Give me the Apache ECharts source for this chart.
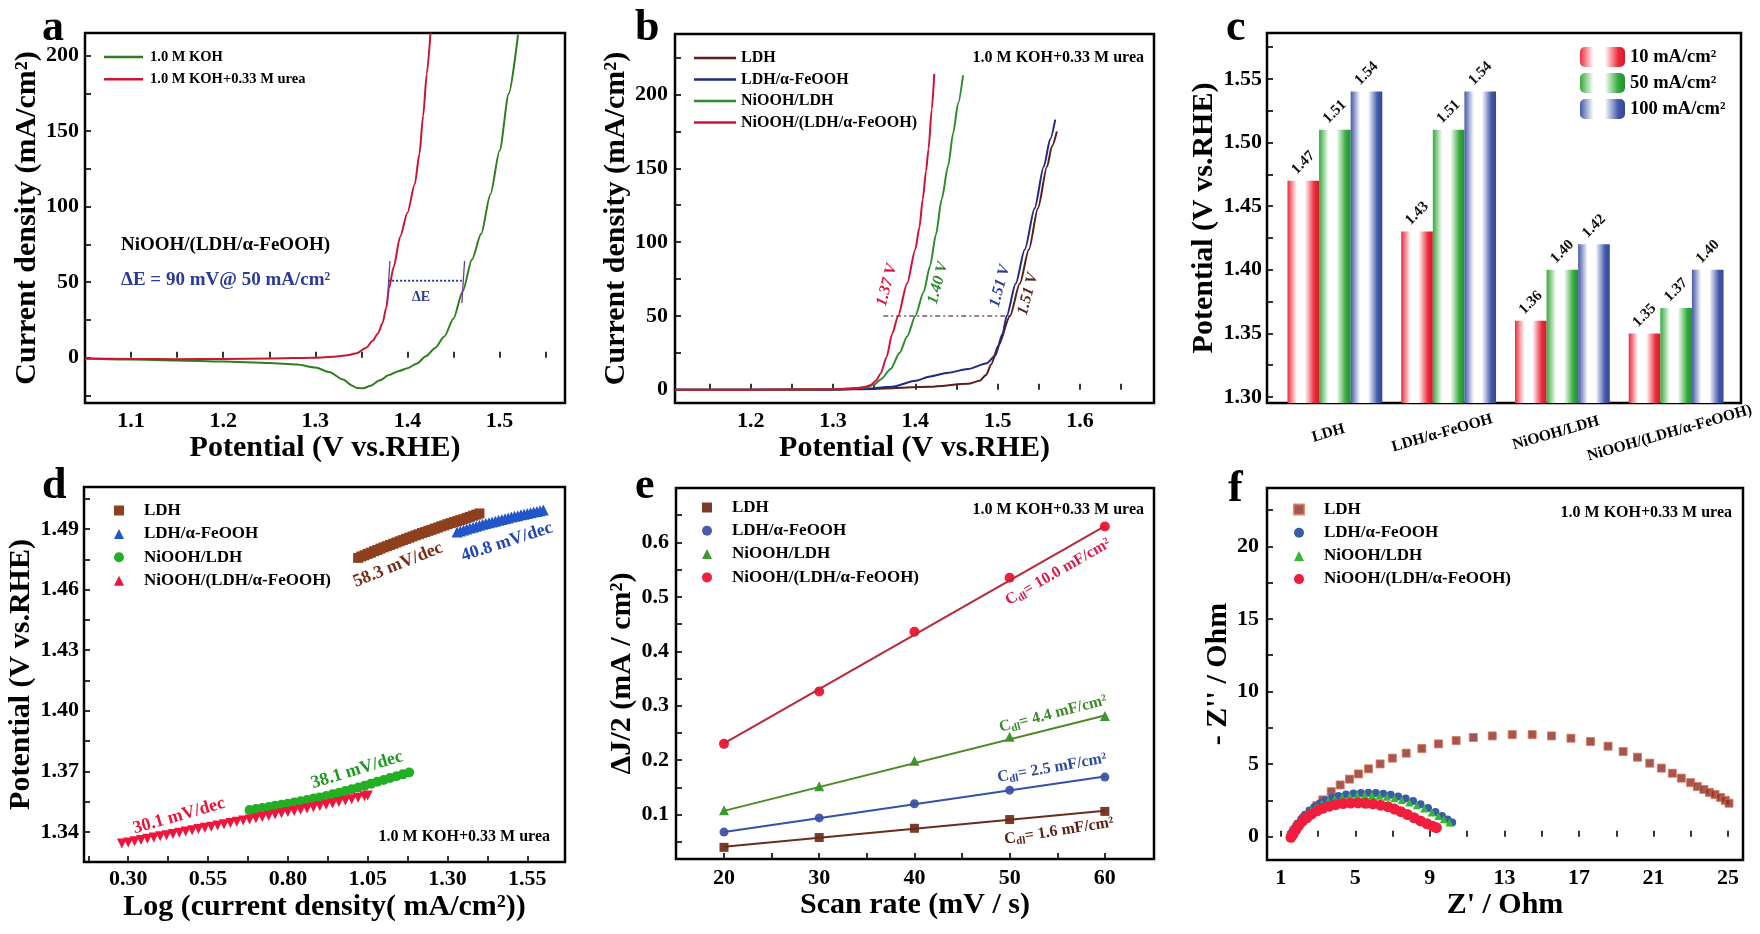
<!DOCTYPE html>
<html><head><meta charset="utf-8">
<script src="https://cdn.jsdelivr.net/npm/echarts@6/dist/echarts.min.js"></script>
<style>html,body{margin:0;padding:0;background:#fff}#c{width:1760px;height:934px}</style>
</head><body><div id="c"></div>
<script>
const FONT = "'Liberation Serif','Times New Roman',serif";

// ---------- Panel a ----------
const aKOH = [[1.05,-0.5],[1.10,-1.2],[1.15,-1.8],[1.20,-2.6],[1.25,-3.5],[1.28,-4.5],[1.30,-6.5],[1.315,-9.5],[1.33,-14.5],[1.34,-18.5],[1.345,-20.0],[1.352,-20.3],[1.36,-18.5],[1.37,-15.0],[1.38,-11.5],[1.39,-9.0],[1.40,-7.0],[1.41,-4.0],[1.42,1.0],[1.43,6.5],[1.44,14.0],[1.45,26.0],[1.46,44.0],[1.47,65.0],[1.48,82.0],[1.49,108.0],[1.50,137.0],[1.51,175.0],[1.52,214.0]];
const aUrea = [[1.05,-0.5],[1.10,-0.8],[1.15,-1.0],[1.20,-0.8],[1.25,-0.5],[1.30,0.0],[1.32,0.6],[1.335,1.6],[1.345,3.0],[1.355,6.5],[1.362,11.0],[1.368,16.0],[1.373,23.0],[1.377,33.0],[1.38,46.0],[1.385,60.0],[1.392,80.0],[1.40,96.0],[1.408,115.0],[1.413,135.0],[1.417,160.0],[1.421,188.0],[1.425,215.0]];
const aDeltaE = [[1.379,51],[1.459,51]];
const aMarkL = [[1.378,36],[1.381,64]];
const aMarkR = [[1.459,36],[1.462,64]];
const aXLabels = [1.1,1.2,1.3,1.4,1.5];
const aXTicks = [1.1,1.15,1.2,1.25,1.3,1.35,1.4,1.45,1.5,1.55];
const aYLabels = [0,50,100,150,200];
const aYTicks = [-25,0,25,50,75,100,125,150,175,200];

// ---------- Panel b ----------
const bLDH = [[1.108,0.0],[1.2,0.0],[1.3,0.0],[1.35,0.5],[1.418,2.0],[1.464,4.0],[1.478,6.0],[1.486,10.0],[1.492,17.0],[1.501,30.0],[1.515,50.0],[1.527,72.0],[1.538,95.0],[1.549,123.0],[1.56,151.0],[1.566,165.0],[1.572,175.0]];
const bLDHFe = [[1.108,0.0],[1.2,0.0],[1.3,0.2],[1.34,0.8],[1.372,2.0],[1.40,6.0],[1.418,9.0],[1.44,11.5],[1.464,14.0],[1.487,18.0],[1.497,23.0],[1.506,38.0],[1.511,50.0],[1.522,72.0],[1.533,95.0],[1.545,123.0],[1.556,151.0],[1.564,170.0],[1.570,183.0]];
const bNiLDH = [[1.108,0.0],[1.2,0.0],[1.3,0.3],[1.34,1.5],[1.35,3.5],[1.358,7.0],[1.37,14.0],[1.381,25.0],[1.39,36.0],[1.40,50.0],[1.41,66.0],[1.418,84.0],[1.425,105.0],[1.432,129.0],[1.44,152.0],[1.446,174.0],[1.452,194.0],[1.458,213.0]];
const bNiLDHFe = [[1.108,0.0],[1.2,0.0],[1.3,0.3],[1.33,1.0],[1.34,2.0],[1.345,3.0],[1.352,6.0],[1.358,11.0],[1.365,22.0],[1.372,38.0],[1.379,50.0],[1.39,72.0],[1.40,95.0],[1.405,110.0],[1.409,129.0],[1.413,148.0],[1.416,163.0],[1.42,190.0],[1.423,214.0]];
const bRef50 = [[1.361,50],[1.519,50]];
const bXLabels = [1.2,1.3,1.4,1.5,1.6];
const bXTicks = [1.15,1.2,1.25,1.3,1.35,1.4,1.45,1.5,1.55,1.6,1.65];
const bYLabels = [0,50,100,150,200];
const bYTicks = [0,25,50,75,100,125,150,175,200,225];

// ---------- Panel c ----------
const cCats = ['LDH','LDH/α-FeOOH','NiOOH/LDH','NiOOH/(LDH/α-FeOOH)'];
const c10 = [1.47,1.43,1.36,1.35];
const c50 = [1.51,1.51,1.40,1.37];
const c100 = [1.54,1.54,1.42,1.40];
const cYLabels = [1.30,1.35,1.40,1.45,1.50,1.55];
const cYTicks = [1.30,1.325,1.35,1.375,1.40,1.425,1.45,1.475,1.50,1.525,1.55,1.575];

// ---------- Panel d ----------
const dLDH = [[1.02,1.4757],[1.03,1.4764],[1.04,1.4770],[1.05,1.4777],[1.06,1.4783],[1.07,1.4790],[1.08,1.4796],[1.09,1.4803],[1.10,1.4809],[1.11,1.4815],[1.12,1.4821],[1.13,1.4827],[1.14,1.4833],[1.15,1.4839],[1.16,1.4845],[1.17,1.4851],[1.18,1.4857],[1.19,1.4863],[1.20,1.4869],[1.21,1.4874],[1.22,1.4880],[1.23,1.4885],[1.24,1.4891],[1.25,1.4896],[1.26,1.4902],[1.27,1.4907],[1.28,1.4913],[1.29,1.4918],[1.30,1.4924],[1.31,1.4929],[1.32,1.4934],[1.33,1.4939],[1.34,1.4944],[1.35,1.4949],[1.36,1.4955],[1.37,1.4960],[1.38,1.4966],[1.39,1.4971],[1.40,1.4977]];
const dLDHFe = [[1.33,1.4885],[1.34,1.4890],[1.35,1.4895],[1.36,1.4900],[1.37,1.4905],[1.38,1.4909],[1.39,1.4914],[1.40,1.4918],[1.41,1.4923],[1.42,1.4927],[1.43,1.4931],[1.44,1.4935],[1.45,1.4939],[1.46,1.4943],[1.47,1.4947],[1.48,1.4951],[1.49,1.4955],[1.50,1.4959],[1.51,1.4963],[1.52,1.4966],[1.53,1.4970],[1.54,1.4973],[1.55,1.4977],[1.56,1.4980],[1.57,1.4984],[1.58,1.4987],[1.59,1.4991],[1.60,1.4994]];
const dNiLDH = [[0.68,1.3508],[0.70,1.3513],[0.72,1.3518],[0.74,1.3523],[0.76,1.3529],[0.78,1.3534],[0.80,1.3540],[0.82,1.3546],[0.84,1.3552],[0.86,1.3558],[0.88,1.3565],[0.90,1.3571],[0.92,1.3578],[0.94,1.3586],[0.96,1.3594],[0.98,1.3602],[1.00,1.3611],[1.02,1.3620],[1.04,1.3629],[1.06,1.3638],[1.08,1.3648],[1.10,1.3657],[1.12,1.3667],[1.14,1.3676],[1.16,1.3685],[1.18,1.3694]];
const dNiLDHFe = [[0.28,1.3343],[0.30,1.3348],[0.32,1.3354],[0.34,1.3360],[0.36,1.3366],[0.38,1.3372],[0.40,1.3378],[0.42,1.3384],[0.44,1.3390],[0.46,1.3396],[0.48,1.3402],[0.50,1.3408],[0.52,1.3414],[0.54,1.3420],[0.56,1.3426],[0.58,1.3432],[0.60,1.3438],[0.62,1.3444],[0.64,1.3450],[0.66,1.3456],[0.68,1.3462],[0.70,1.3468],[0.72,1.3474],[0.74,1.3480],[0.76,1.3486],[0.78,1.3492],[0.80,1.3498],[0.82,1.3504],[0.84,1.3510],[0.86,1.3516],[0.88,1.3522],[0.90,1.3528],[0.92,1.3534],[0.94,1.3541],[0.96,1.3548],[0.98,1.3555],[1.00,1.3562],[1.02,1.3569],[1.04,1.3576],[1.05,1.3580]];
const dXLabels = [0.30,0.55,0.80,1.05,1.30,1.55];
const dXTicks = [0.175,0.30,0.425,0.55,0.675,0.80,0.925,1.05,1.175,1.30,1.425,1.55];
const dYLabels = [1.34,1.37,1.40,1.43,1.46,1.49];
const dYTicks = [1.34,1.355,1.37,1.385,1.40,1.415,1.43,1.445,1.46,1.475,1.49,1.505];

// ---------- Panel e ----------
const eScan = [20,30,40,50,60];
const eLDH = [0.040,0.058,0.075,0.091,0.106];
const eLDHFe = [0.068,0.094,0.120,0.145,0.169];
const eNiLDH = [0.108,0.152,0.199,0.243,0.281];
const eNiLDHFe = [0.230,0.326,0.436,0.535,0.629];
const eFitX = [20,60];
const eLDHFit = [0.041,0.107];
const eLDHFeFit = [0.068,0.170];
const eNiLDHFit = [0.107,0.282];
const eNiLDHFeFit = [0.231,0.630];
const eXLabels = [20,30,40,50,60];
const eXTicks = [20,25,30,35,40,45,50,55,60];
const eYLabels = [0.1,0.2,0.3,0.4,0.5,0.6];
const eYTicks = [0.05,0.1,0.15,0.2,0.25,0.3,0.35,0.4,0.45,0.5,0.55,0.6,0.65];

// ---------- Panel f ----------
const fLDH = [[1.55,0.1],[1.7,0.4],[1.87,0.69],[2.23,1.27],[2.59,1.72],[2.94,2.14],[3.26,2.53],[3.71,3.10],[4.19,3.56],[4.69,3.96],[5.17,4.32],[5.71,4.67],[6.33,5.01],[6.99,5.41],[7.73,5.75],[8.57,6.07],[9.46,6.39],[10.41,6.62],[11.33,6.83],[12.35,6.94],[13.42,7.03],[14.49,7.03],[15.53,6.94],[16.57,6.78],[17.62,6.55],[18.56,6.23],[19.37,5.86],[20.14,5.47],[20.80,5.06],[21.42,4.72],[22.01,4.37],[22.49,4.03],[22.99,3.72],[23.35,3.45],[23.7,3.25],[24.0,3.05],[24.3,2.9],[24.6,2.7],[24.85,2.5],[25.05,2.3]];
const fLDHFe = [[1.5,0.0],[1.6,0.3],[1.75,0.6],[1.9,0.9],[2.1,1.2],[2.3,1.5],[2.55,1.8],[2.8,2.05],[3.1,2.3],[3.4,2.5],[3.75,2.67],[4.1,2.8],[4.5,2.9],[4.9,2.97],[5.3,3.0],[5.7,3.02],[6.1,3.0],[6.5,2.96],[6.9,2.88],[7.3,2.77],[7.7,2.63],[8.1,2.45],[8.5,2.23],[8.9,1.98],[9.3,1.7],[9.65,1.42],[9.95,1.18],[10.2,0.98]];
const fNiLDH = [[1.5,0.0],[1.62,0.3],[1.78,0.6],[1.95,0.9],[2.15,1.2],[2.38,1.5],[2.62,1.78],[2.9,2.02],[3.2,2.25],[3.55,2.45],[3.9,2.6],[4.3,2.72],[4.7,2.8],[5.1,2.85],[5.5,2.87],[5.9,2.86],[6.3,2.82],[6.7,2.75],[7.1,2.65],[7.5,2.52],[7.9,2.36],[8.3,2.16],[8.7,1.93],[9.1,1.67],[9.45,1.42],[9.75,1.2],[10.05,0.98]];
const fNiLDHFe = [[1.55,-0.05],[1.65,0.15],[1.8,0.45],[1.95,0.75],[2.15,1.05],[2.4,1.3],[2.65,1.55],[2.95,1.78],[3.25,1.95],[3.6,2.1],[3.95,2.2],[4.35,2.28],[4.75,2.31],[5.15,2.32],[5.55,2.3],[5.95,2.25],[6.35,2.17],[6.75,2.06],[7.1,1.9],[7.45,1.72],[7.8,1.52],[8.15,1.3],[8.5,1.08],[8.85,0.88],[9.15,0.72],[9.35,0.62]];
const fXLabels = [1,5,9,13,17,21,25];
const fXTicks = [1,3,5,7,9,11,13,15,17,19,21,23,25];
const fYLabels = [0,5,10,15,20];
const fYTicks = [0,2.5,5,7.5,10,12.5,15,17.5,20,22.5];

// ---------- helpers ----------
const f0 = v => String(Math.round(v));
const f1 = v => v.toFixed(1);
const f2 = v => v.toFixed(2);
function vAxis(o) {
  return {
    type: 'value', gridIndex: o.g, min: o.min, max: o.max,
    axisLine: { show: false },
    axisTick: { show: true, inside: true, length: 6, lineStyle: { color: '#000', width: 1.6 }, customValues: o.ticks },
    axisLabel: { show: true, customValues: o.labels, formatter: o.fmt, fontFamily: FONT, fontWeight: 'bold', fontSize: 22, color: '#000', margin: o.margin },
    splitLine: { show: false },
    name: o.name, nameLocation: 'middle', nameGap: o.gap,
    nameTextStyle: { fontFamily: FONT, fontWeight: 'bold', fontSize: 30, color: '#000' }
  };
}
function hidden(g) { return { type: 'value', gridIndex: g, show: false, min: 0, max: 1 }; }
function grid(l, t, w, h, show) {
  return { left: l, top: t, width: w, height: h, show: !!show, borderColor: '#000', borderWidth: 2.5, backgroundColor: 'transparent', containLabel: false, outerBoundsMode: 'none' };
}
function lineS(name, data, color, xi, extra) {
  return Object.assign({ type: 'line', name, data, xAxisIndex: xi, yAxisIndex: xi, symbol: 'none', smooth: 0.25, smoothMonotone: 'x', lineStyle: { color, width: 2 }, itemStyle: { color }, silent: true }, extra || {});
}
function scat(name, data, color, xi, symbol, size, extra) {
  return Object.assign({ type: 'scatter', name, data, xAxisIndex: xi, yAxisIndex: xi, symbol, symbolSize: size, itemStyle: { color, opacity: 1 }, silent: true }, extra || {});
}
function barGrad(c1, c2) {
  return new echarts.graphic.LinearGradient(0, 0, 1, 0, [
    { offset: 0, color: c1 }, { offset: 0.3, color: '#ffffff' }, { offset: 0.55, color: '#ffffff' }, { offset: 0.85, color: c1 }, { offset: 1, color: c2 }
  ]);
}
const legendText = n => n.split('|')[1];
function legend(o) {
  return { orient: 'vertical', left: o.left, top: o.top, data: o.data, itemGap: o.gap, itemWidth: o.iw, itemHeight: o.ih, icon: o.icon, selectedMode: false, formatter: legendText, padding: 0,
    textStyle: { fontFamily: FONT, fontWeight: 'bold', fontSize: o.fs, color: '#000', lineHeight: o.lh, padding: [0, 0, 0, o.tp || 0] } };
}
function T(x, y, text, o) {
  o = o || {};
  return { type: 'text', x, y, rotation: (o.rot || 0) * Math.PI / 180, silent: true, z: 100,
    style: { text, fill: o.color || '#000', fontFamily: FONT, fontWeight: o.weight || 'bold', fontStyle: o.style || 'normal', fontSize: o.size || 16, align: o.align || 'center', verticalAlign: o.va || 'middle', rich: o.rich } };
}
function cdl(x, y, val, color, rot) {
  return T(x, y, '{c|C}{s|dl}{c|= ' + val + ' mF/cm²}', { rot, rich: {
    c: { fill: color, fontFamily: FONT, fontWeight: 'bold', fontSize: 16 },
    s: { fill: color, fontFamily: FONT, fontWeight: 'bold', fontSize: 11, verticalAlign: 'bottom', padding: [8, 0, 0, 0] } } });
}
const pair = (xs, ys) => xs.map((x, i) => [x, ys[i]]);
const barLabel = { show: true, position: 'top', distance: 18, rotate: 45, align: 'center', verticalAlign: 'middle', formatter: p => p.value.toFixed(2), fontFamily: FONT, fontWeight: 'bold', fontSize: 15, color: '#111' };

const chart = echarts.init(document.getElementById('c'), null, { renderer: 'canvas' });
const option = {
  backgroundColor: '#fff',
  animation: false,
  grid: [
    grid(85, 33, 480, 370, true),      // a
    grid(675, 34, 479, 369, true),     // b
    grid(1278, 33, 455, 370, false),   // c bars
    grid(1267, 33, 474, 370, true),    // c box
    grid(84, 487, 481, 375, true),     // d
    grid(676, 488, 478, 371, true),    // e
    grid(1267, 488, 476, 372, true)    // f
  ],
  xAxis: [
    vAxis({ g: 0, min: 1.05, max: 1.571, labels: aXLabels, ticks: aXTicks, fmt: f1, margin: 7, name: 'Potential (V vs.RHE)', gap: 29 }),
    vAxis({ g: 1, min: 1.108, max: 1.69, labels: bXLabels, ticks: bXTicks, fmt: f1, margin: 7, name: 'Potential (V vs.RHE)', gap: 28 }),
    { type: 'category', gridIndex: 2, data: cCats, axisLine: { show: false }, axisTick: { show: false },
      axisLabel: { interval: 0, rotate: 16, align: 'center', verticalAlign: 'top', margin: 20, padding: [0, 18, 0, 0], fontFamily: FONT, fontWeight: 'bold', fontSize: 15.5, color: '#000' } },
    hidden(3),
    vAxis({ g: 4, min: 0.1614, max: 1.668, labels: dXLabels, ticks: dXTicks, fmt: f2, margin: 6, name: 'Log (current density( mA/cm²))', gap: 30 }),
    vAxis({ g: 5, min: 14.96, max: 65.16, labels: eXLabels, ticks: eXTicks, fmt: f0, margin: 8, name: 'Scan rate (mV / s)', gap: 31 }),
    vAxis({ g: 6, min: 0.263, max: 25.8, labels: fXLabels, ticks: fXTicks, fmt: f0, margin: 7, name: "Z' / Ohm", gap: 30 })
  ],
  yAxis: [
    vAxis({ g: 0, min: -30, max: 215, labels: aYLabels, ticks: aYTicks, fmt: f0, margin: 6, name: 'Current density (mA/cm²)', gap: 43 }),
    vAxis({ g: 1, min: -9, max: 241, labels: bYLabels, ticks: bYTicks, fmt: f0, margin: 7, name: 'Current density (mA/cm²)', gap: 44 }),
    Object.assign(vAxis({ g: 2, min: 1.2953, max: 1.586, labels: cYLabels, ticks: cYTicks, fmt: f2, margin: 5, name: 'Potential (V vs.RHE)', gap: 48 }), { offset: 11 }),
    hidden(3),
    vAxis({ g: 4, min: 1.3251, max: 1.5108, labels: dYLabels, ticks: dYTicks, fmt: f2, margin: 5, name: 'Potential (V vs.RHE)', gap: 44 }),
    vAxis({ g: 5, min: 0.0186, max: 0.6998, labels: eYLabels, ticks: eYTicks, fmt: f1, margin: 7, name: 'ΔJ/2 (mA / cm²)', gap: 39 }),
    vAxis({ g: 6, min: -1.61, max: 24.02, labels: fYLabels, ticks: fYTicks, fmt: f0, margin: 8, name: "- Z'' / Ohm", gap: 29 })
  ],
  legend: [
    legend({ left: 104, top: 49, data: ['a|1.0 M KOH', 'a|1.0 M KOH+0.33 M urea'], gap: 6.3, iw: 39, ih: 2.5, icon: 'rect', fs: 14.5, lh: 16, tp: 2 }),
    legend({ left: 694, top: 50, data: ['b|LDH', 'b|LDH/α-FeOOH', 'b|NiOOH/LDH', 'b|NiOOH/(LDH/α-FeOOH)'], gap: 5.5, iw: 42, ih: 2.5, icon: 'rect', fs: 16, lh: 16, tp: 0 }),
    legend({ left: 1580, top: 47, data: ['c|10 mA/cm²', 'c|50 mA/cm²', 'c|100 mA/cm²'], gap: 6, iw: 45, ih: 20, fs: 18.5, lh: 20, tp: 0 }),
    legend({ left: 114, top: 502, data: ['d|LDH', 'd|LDH/α-FeOOH', 'd|NiOOH/LDH', 'd|NiOOH/(LDH/α-FeOOH)'], gap: 6.4, iw: 10, ih: 10, fs: 17, lh: 16, tp: 15 }),
    legend({ left: 702, top: 499, data: ['e|LDH', 'e|LDH/α-FeOOH', 'e|NiOOH/LDH', 'e|NiOOH/(LDH/α-FeOOH)'], gap: 6.3, iw: 10, ih: 10, fs: 17, lh: 16, tp: 15 }),
    legend({ left: 1293, top: 501, data: ['f|LDH', 'f|LDH/α-FeOOH', 'f|NiOOH/LDH', 'f|NiOOH/(LDH/α-FeOOH)'], gap: 6.2, iw: 10, ih: 10, fs: 17, lh: 16, tp: 15 })
  ],
  series: [
    // a
    lineS('a|1.0 M KOH', aKOH, '#2f7d1f', 0),
    lineS('a|1.0 M KOH+0.33 M urea', aUrea, '#cc1532', 0),
    lineS('a|dE', aDeltaE, '#2b3a9a', 0, { smooth: false, lineStyle: { color: '#2b3a9a', width: 2, type: 'dotted' } }),
    lineS('a|mL', aMarkL, '#6a3d9a', 0, { smooth: false, lineStyle: { color: '#6a3d9a', width: 1.3 } }),
    lineS('a|mR', aMarkR, '#6a3d9a', 0, { smooth: false, lineStyle: { color: '#6a3d9a', width: 1.3 } }),
    // b
    lineS('b|ref', bRef50, '#7a5a5a', 1, { smooth: false, lineStyle: { color: '#7a5a5a', width: 1.5, type: [5, 3, 2, 3] } }),
    lineS('b|LDH', bLDH, '#5a1f1f', 1),
    lineS('b|LDH/α-FeOOH', bLDHFe, '#1f2a80', 1),
    lineS('b|NiOOH/LDH', bNiLDH, '#2e8b2e', 1),
    lineS('b|NiOOH/(LDH/α-FeOOH)', bNiLDHFe, '#d4103a', 1),
    // c
    { type: 'bar', name: 'c|10 mA/cm²', data: c10, xAxisIndex: 2, yAxisIndex: 2, barWidth: 31.6, barGap: '0%', silent: true,
      itemStyle: { color: barGrad('#ec2a3c', '#d41a2e') }, label: barLabel },
    { type: 'bar', name: 'c|50 mA/cm²', data: c50, xAxisIndex: 2, yAxisIndex: 2, barWidth: 31.6, barGap: '0%', silent: true,
      itemStyle: { color: barGrad('#34aa3c', '#24902e') }, label: barLabel },
    { type: 'bar', name: 'c|100 mA/cm²', data: c100, xAxisIndex: 2, yAxisIndex: 2, barWidth: 31.6, barGap: '0%', silent: true,
      itemStyle: { color: barGrad('#4458aa', '#34469a') }, label: barLabel },
    // d
    scat('d|LDH', dLDH, '#8e3f1e', 4, 'rect', 10),
    scat('d|LDH/α-FeOOH', dLDHFe, '#2256c8', 4, 'triangle', 11),
    scat('d|NiOOH/LDH', dNiLDH, '#22b022', 4, 'circle', 10),
    scat('d|NiOOH/(LDH/α-FeOOH)', dNiLDHFe, '#f0143c', 4, 'triangle', 10, { symbolRotate: 180 }),
    // e
    lineS('e|fit1', pair(eFitX, eLDHFit), '#6b2c1c', 5, { smooth: false }),
    lineS('e|fit2', pair(eFitX, eLDHFeFit), '#3551a8', 5, { smooth: false }),
    lineS('e|fit3', pair(eFitX, eNiLDHFit), '#4d8a22', 5, { smooth: false }),
    lineS('e|fit4', pair(eFitX, eNiLDHFeFit), '#b8283a', 5, { smooth: false }),
    scat('e|LDH', pair(eScan, eLDH), '#7b3b2b', 5, 'rect', 9),
    scat('e|LDH/α-FeOOH', pair(eScan, eLDHFe), '#4a5ca8', 5, 'circle', 9),
    scat('e|NiOOH/LDH', pair(eScan, eNiLDH), '#3c9a30', 5, 'triangle', 10),
    scat('e|NiOOH/(LDH/α-FeOOH)', pair(eScan, eNiLDHFe), '#f0203c', 5, 'circle', 10),
    // f
    scat('f|LDH', fLDH, '#8a2e26', 6, 'rect', 8, { itemStyle: { color: '#8a2e26', borderColor: '#e07050', borderWidth: 1 } }),
    scat('f|LDH/α-FeOOH', fLDHFe, '#3b5ba8', 6, 'circle', 8),
    scat('f|NiOOH/LDH', fNiLDH, '#34b834', 6, 'triangle', 8),
    scat('f|NiOOH/(LDH/α-FeOOH)', fNiLDHFe, '#f01e3c', 6, 'circle', 11)
  ],
  graphic: { elements: [
    T(42, 29, 'a', { size: 44, align: 'left' }),
    T(635, 29, 'b', { size: 44, align: 'left' }),
    T(1226, 29, 'c', { size: 44, align: 'left' }),
    T(42, 487, 'd', { size: 44, align: 'left' }),
    T(635, 487, 'e', { size: 44, align: 'left' }),
    T(1228, 490, 'f', { size: 44, align: 'left' }),
    // a annotations
    T(121, 245, 'NiOOH/(LDH/α-FeOOH)', { size: 19, align: 'left' }),
    T(121, 280, 'ΔE = 90 mV@ 50 mA/cm²', { size: 19, align: 'left', color: '#2b3a9a' }),
    T(421, 297, 'ΔE', { size: 14, color: '#2b3a9a' }),
    // b annotations
    T(1144, 58, '1.0 M KOH+0.33 M urea', { size: 16, align: 'right' }),
    T(887, 285, '1.37 V', { size: 16, rot: 75, style: 'italic', color: '#e0103a' }),
    T(938, 283, '1.40 V', { size: 16, rot: 75, style: 'italic', color: '#2e8b2e' }),
    T(1000, 286, '1.51 V', { size: 16, rot: 75, style: 'italic', color: '#2a3a9a' }),
    T(1028, 294, '1.51 V', { size: 16, rot: 75, style: 'italic', color: '#5a1f1f' }),
    // d annotations
    T(550, 837, '1.0 M KOH+0.33 M urea', { size: 16, align: 'right' }),
    T(398, 565, '58.3 mV/dec', { size: 18, rot: 22, color: '#7a2c18' }),
    T(507, 542, '40.8 mV/dec', { size: 18, rot: 18, color: '#2246b8' }),
    T(357, 770, '38.1 mV/dec', { size: 18, rot: 17, color: '#1e9a1e' }),
    T(179, 816, '30.1 mV/dec', { size: 18, rot: 16, color: '#e8143a' }),
    // e annotations
    T(1144, 510, '1.0 M KOH+0.33 M urea', { size: 16, align: 'right' }),
    cdl(1058, 572, '10.0', '#d81b4a', 30),
    cdl(1053, 714, '4.4', '#3c8a2a', 14.5),
    cdl(1052, 768, '2.5', '#2e4aa0', 10),
    cdl(1059, 831, '1.6', '#5a2418', 9),
    // f annotations
    T(1732, 513, '1.0 M KOH+0.33 M urea', { size: 16, align: 'right' })
  ] }
};
chart.setOption(option);
</script></body></html>
